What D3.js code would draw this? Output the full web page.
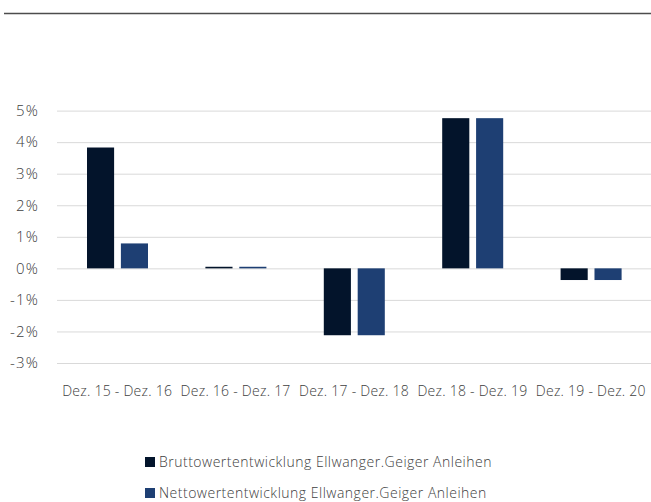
<!DOCTYPE html>
<html>
<head>
<meta charset="utf-8">
<style>
  body { margin: 0; background: #fff; }
  text { font-family: "Open Sans", Lato, sans-serif; fill: #404040; }
</style>
</head>
<body>
<svg width="651" height="502"></svg>
<script src="https://d3js.org/d3.v7.min.js"></script>
<script>

// periods on the x axis
var categories = ["Dez. 15 - Dez. 16", "Dez. 16 - Dez. 17", "Dez. 17 - Dez. 18", "Dez. 18 - Dez. 19", "Dez. 19 - Dez. 20"];

// yearly performance in percent
var seriesNames = ["Bruttowertentwicklung Ellwanger.Geiger Anleihen", "Nettowertentwicklung Ellwanger.Geiger Anleihen"];
var brutto = [3.83, 0.05, -2.12, 4.76, -0.37];
var netto = [0.79, 0.05, -2.12, 4.76, -0.37];
var colors = ["#03142b", "#1e3f73"];

var yTicks = [-3, -2, -1, 0, 1, 2, 3, 4, 5];

var svg = d3.select("svg");

// thin rule along the top
svg.append("line")
    .attr("x1", 4).attr("x2", 651)
    .attr("y1", 13.5).attr("y2", 13.5)
    .attr("stroke", "#4d4d4d")
    .attr("stroke-width", 1.5);

var y = d3.scaleLinear().domain([-3, 5]).range([363, 110.6]);
var x = d3.scaleBand().domain(categories).range([58, 650]);
var x1 = d3.scaleBand().domain([0, 1]).range([29, 90]).paddingInner(0.2);

// gridlines + y labels
var yAxis = d3.axisLeft(y)
    .tickValues(yTicks)
    .tickSize(-(651 - 57))
    .tickFormat(function (d) { return d + "%"; });

var gy = svg.append("g")
    .attr("transform", "translate(57,0)")
    .call(yAxis);
gy.select(".domain").remove();
gy.selectAll(".tick line").attr("stroke", "#d9d9d9").attr("stroke-width", 1);
gy.selectAll(".tick text")
    .attr("x", -18)
    .style("font-family", "'Open Sans', sans-serif")
    .style("font-size", "15px")
    .style("font-weight", 300)
    .style("letter-spacing", "1.2px")
    .style("fill", "#404040");

// bars
var rows = categories.map(function (c, i) { return {cat: c, vals: [brutto[i], netto[i]]}; });

var groups = svg.selectAll(".grp")
    .data(rows)
    .enter().append("g")
    .attr("transform", function (d) { return "translate(" + x(d.cat) + ",0)"; });

groups.selectAll("rect")
    .data(function (d) { return d.vals.map(function (v, k) { return {v: v, k: k}; }); })
    .enter().append("rect")
    .attr("x", function (d) { return x1(d.k); })
    .attr("width", x1.bandwidth())
    .attr("y", function (d) { return y(Math.max(0, d.v)); })
    .attr("height", function (d) { return Math.abs(y(d.v) - y(0)); })
    .attr("fill", function (d) { return colors[d.k]; });

// x labels
var xAxis = d3.axisBottom(x).tickSize(0);
var gx = svg.append("g")
    .attr("transform", "translate(0,380)")
    .call(xAxis);
gx.select(".domain").remove();
gx.selectAll(".tick text")
    .attr("dy", "0.9em")
    .style("font-family", "'Open Sans', sans-serif")
    .style("font-size", "14px")
    .style("font-weight", 300)
    .style("letter-spacing", "0.25px")
    .style("fill", "#404040");

// legend
var legend = svg.selectAll(".leg")
    .data(seriesNames)
    .enter().append("g")
    .attr("transform", function (d, i) { return "translate(145," + (457 + i * 31) + ")"; });

legend.append("rect")
    .attr("width", 10).attr("height", 10)
    .attr("fill", function (d, i) { return colors[i]; });

legend.append("text")
    .attr("x", 14)
    .attr("y", 5)
    .attr("dy", "0.35em")
    .style("font-size", "14px")
    .style("font-weight", 300)
    .style("letter-spacing", "0.5px")
    .text(function (d) { return d; });

</script>
</body>
</html>
